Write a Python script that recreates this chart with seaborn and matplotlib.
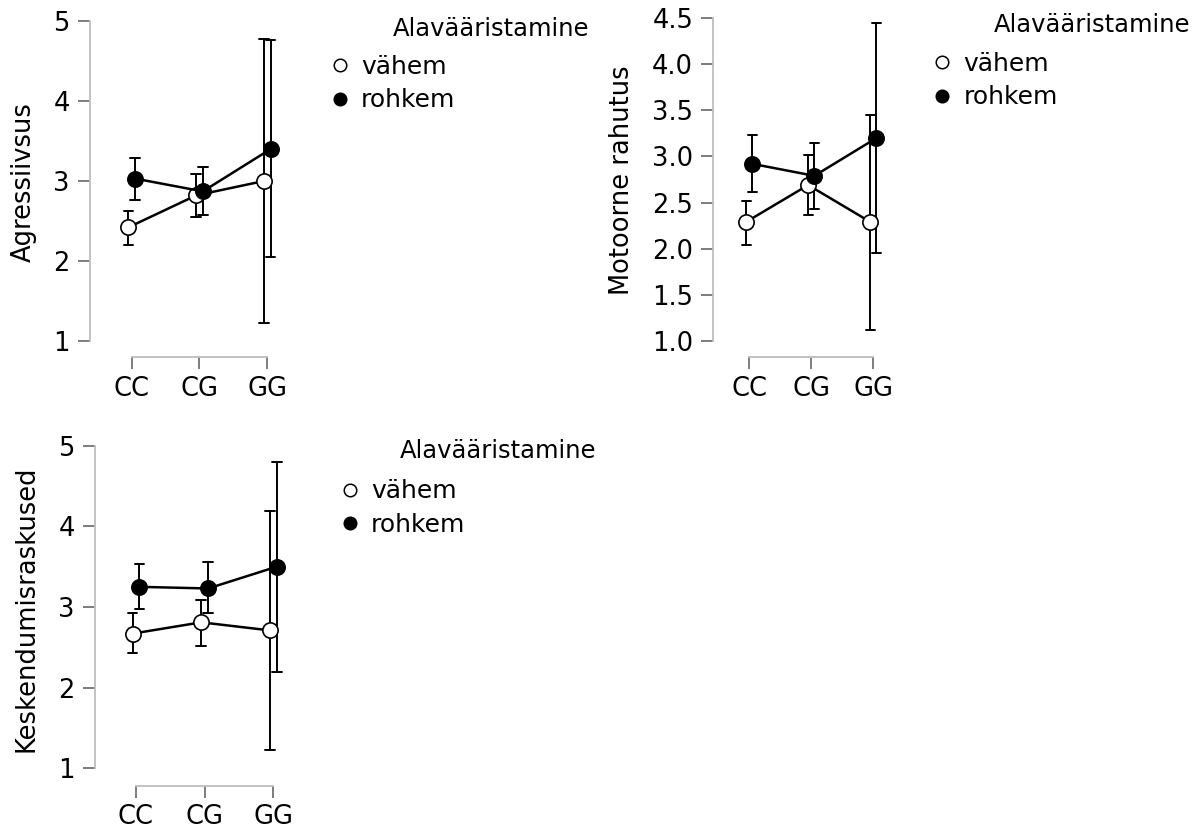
import numpy as np
import pandas as pd
import matplotlib
matplotlib.use("Agg")
import matplotlib.pyplot as plt
from matplotlib.lines import Line2D
import seaborn as sns

# ---------------- data ----------------
genotypes = ["CC", "CG", "GG"]
groups = ["vähem", "rohkem"]
legend_title = "Alavääristamine"

ylabels = ["Agressiivsus", "Motoorne rahutus", "Keskendumisraskused"]

# Agressiivsus
agr_vahem_mean = [2.42, 2.82, 3.00]
agr_vahem_lo = [2.20, 2.55, 1.23]
agr_vahem_hi = [2.63, 3.09, 4.77]
agr_rohkem_mean = [3.03, 2.87, 3.40]
agr_rohkem_lo = [2.76, 2.57, 2.05]
agr_rohkem_hi = [3.29, 3.18, 4.76]

# Motoorne rahutus
mot_vahem_mean = [2.29, 2.69, 2.29]
mot_vahem_lo = [2.04, 2.37, 1.12]
mot_vahem_hi = [2.52, 3.02, 3.45]
mot_rohkem_mean = [2.92, 2.79, 3.20]
mot_rohkem_lo = [2.61, 2.43, 1.95]
mot_rohkem_hi = [3.23, 3.15, 4.45]

# Keskendumisraskused
kes_vahem_mean = [2.67, 2.81, 2.71]
kes_vahem_lo = [2.43, 2.52, 1.23]
kes_vahem_hi = [2.93, 3.09, 4.19]
kes_rohkem_mean = [3.25, 3.23, 3.50]
kes_rohkem_lo = [2.97, 2.92, 2.19]
kes_rohkem_hi = [3.53, 3.56, 4.80]

yticks_1 = [1, 2, 3, 4, 5]
yticks_2 = [1.0, 1.5, 2.0, 2.5, 3.0, 3.5, 4.0, 4.5]
yticks_3 = [1, 2, 3, 4, 5]

panel_data = [
    (agr_vahem_mean, agr_vahem_lo, agr_vahem_hi, agr_rohkem_mean, agr_rohkem_lo, agr_rohkem_hi),
    (mot_vahem_mean, mot_vahem_lo, mot_vahem_hi, mot_rohkem_mean, mot_rohkem_lo, mot_rohkem_hi),
    (kes_vahem_mean, kes_vahem_lo, kes_vahem_hi, kes_rohkem_mean, kes_rohkem_lo, kes_rohkem_hi),
]


def build_df(vm, vl, vh, rm, rl, rh):
    rows = []
    for grp, m, lo, hi in [("vähem", vm, vl, vh), ("rohkem", rm, rl, rh)]:
        for g, a, b, c in zip(genotypes, lo, m, hi):
            for v in (a, b, c):
                rows.append({"genotype": g, "group": grp, "value": v})
    return pd.DataFrame(rows)


# ---------------- style ----------------
sns.set_style("white")
plt.rcParams["font.family"] = ["DejaVu Sans"]
plt.rcParams["text.color"] = "black"
plt.rcParams["axes.labelcolor"] = "black"

W, H = 1204, 834
fig = plt.figure(figsize=(W / 100, H / 100), dpi=100)


def px_axes(left, top, width, height):
    return fig.add_axes([left / W, 1 - (top + height) / H, width / W, height / H])


layouts = [
    dict(rect=(90, 17, 204.4, 340), xlim=(-0.615, 2.4), ylim=(0.8, 5.05),
         yticks=yticks_1, fmt="{:g}", lab=(-0.262, 0.515),
         title=(392.7, 36), leg=(329.6, 83.5)),
    dict(rect=(713.3, 13.7, 184.8, 343.6), xlim=(-0.58, 2.4), ylim=(0.82, 4.55),
         yticks=yticks_2, fmt="{:.1f}", lab=(-0.425, 0.516),
         title=(994, 32), leg=(932.3, 80.5)),
    dict(rect=(95, 441.7, 205.8, 344), xlim=(-0.597, 2.4), ylim=(0.784, 5.05),
         yticks=yticks_3, fmt="{:g}", lab=(-0.27, 0.514),
         title=(400, 458.3), leg=(339.6, 508)),
]

fs = 18.5
spine_col = "#bdbdbd"
tick_col = "#666666"

for i, (lay, dat) in enumerate(zip(layouts, panel_data)):
    ax = px_axes(*lay["rect"])
    df = build_df(*dat)
    sns.pointplot(
        data=df, x="genotype", y="value", hue="group",
        order=genotypes, hue_order=groups,
        estimator="median", errorbar=lambda v: (v.min(), v.max()),
        dodge=0.1, capsize=0.14, markers="o", linestyles="-",
        palette={"vähem": "black", "rohkem": "black"},
        err_kws={"linewidth": 1.4, "color": "black", "zorder": 1.5},
        linewidth=1.8, markersize=11, markeredgewidth=1.2,
        legend=False, ax=ax,
    )
    pt_lines = [ln for ln in ax.lines if ln.get_marker() not in (None, "None", "", " ")]
    for k, ln in enumerate(pt_lines):
        ln.set_markeredgecolor("black")
        ln.set_markerfacecolor("white" if k == 0 else "black")
        ln.set_zorder(3 + k)
    for ln in ax.lines:
        ln.set_clip_on(False)

    ax.set_xlim(*lay["xlim"])
    ax.set_ylim(*lay["ylim"])
    ax.set_yticks(lay["yticks"])
    ax.set_yticklabels([lay["fmt"].format(t) for t in lay["yticks"]])
    ax.set_xlabel("")
    ax.set_ylabel(ylabels[i], fontsize=fs)
    ax.yaxis.set_label_coords(*lay["lab"])

    for s in ("top", "right"):
        ax.spines[s].set_visible(False)
    for s in ("left", "bottom"):
        ax.spines[s].set_color(spine_col)
        ax.spines[s].set_linewidth(1.3)
    ax.spines["left"].set_bounds(lay["yticks"][0], lay["yticks"][-1])
    ax.spines["bottom"].set_bounds(0, len(genotypes) - 1)
    ax.tick_params(axis="both", direction="out", length=8.5, width=1.2,
                   color=tick_col, labelsize=fs, labelcolor="black",
                   left=True, bottom=True)
    ax.tick_params(axis="y", pad=6)
    ax.tick_params(axis="x", pad=5)
    ax.patch.set_alpha(0)

    tx, ty = lay["title"]
    fig.text(tx / W, 1 - ty / H, legend_title, fontsize=17.5, ha="left", va="baseline")
    handles = [
        Line2D([], [], marker="o", linestyle="none", markersize=9,
               markerfacecolor=fc, markeredgecolor="black", markeredgewidth=1.1)
        for fc in ("white", "black")
    ]
    lx, ly = lay["leg"]
    fig.legend(handles, groups, loc="center left",
               bbox_to_anchor=(lx / W, 1 - ly / H), bbox_transform=fig.transFigure,
               frameon=False, fontsize=18, handlelength=0.8, handletextpad=0.45,
               labelspacing=0.38, borderpad=0, borderaxespad=0)

fig.savefig("out.png", dpi=100, facecolor="white")
